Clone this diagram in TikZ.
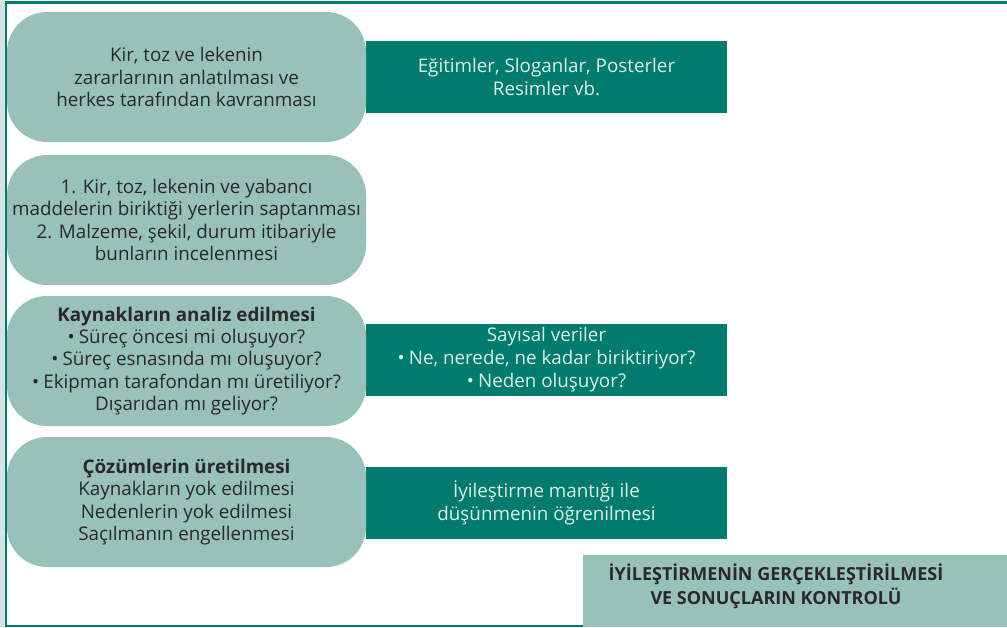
\documentclass[tikz,border=0pt]{standalone}
\usepackage{fontspec}
\setmainfont{Open Sans}
\definecolor{lightteal}{HTML}{97C1B9}
\definecolor{darkteal}{HTML}{007B6D}
\definecolor{textdark}{HTML}{2A2928}
\definecolor{textlight}{HTML}{DDEFEA}
\definecolor{strip}{HTML}{D4E4E1}
% bullet with a little extra room before the item text
\newcommand{\itembullet}{•\hspace{0.22em}}
\begin{document}
\begin{tikzpicture}[x=1pt,y=-1pt,
  stage/.style={fill=lightteal, rounded corners=40pt, text=textdark, align=center,
    inner sep=0pt, minimum width=359pt, minimum height=130pt,
    font=\fontsize{18.8}{22.3}\selectfont},
  note/.style={fill=darkteal, text=textlight, align=center, inner sep=0pt,
    minimum width=361pt, minimum height=72pt,
    font=\fontsize{18.8}{23}\selectfont},
  resultbox/.style={fill=lightteal, inner sep=0pt, minimum width=424pt, minimum height=72pt},
  resulttext/.style={text=textdark, align=center, font=\bfseries\fontsize{18}{24}\selectfont}]
\useasboundingbox (0,0) rectangle (1007,627);
% frame
\fill[strip] (0,0) rectangle (4.5,627);
\fill[darkteal] (4.5,1) rectangle (1007,3.5);
\fill[darkteal] (4.5,1) rectangle (7,627);
\fill[darkteal] (4.5,624.5) rectangle (583,627);
% right-hand notes
\node[note] (n1) at (546.5,77) {Eğitimler, Sloganlar, Posterler\\Resimler vb.};
\node[note] (n2) at (546.5,360) {Sayısal veriler\\\itembullet Ne, nerede, ne kadar biriktiriyor?\\\itembullet Neden oluşuyor?};
\node[note] (n3) at (546.5,503) {İyileştirme mantığı ile\\düşünmenin öğrenilmesi};
% stages
\node[stage] (s1) at (186.5,77) {Kir, toz ve lekenin\\zararlarının anlatılması ve\\herkes tarafından kavranması};
\node[stage] (s2) at (186.5,220) {1. Kir, toz, lekenin ve yabancı\\maddelerin biriktiği yerlerin saptanması\\2. Malzeme, şekil, durum itibariyle\\bunların incelenmesi};
\node[stage] (s3) at (186.5,361) {{\bfseries Kaynakların analiz edilmesi}\\\itembullet Süreç öncesi mi oluşuyor?\\\itembullet Süreç esnasında mı oluşuyor?\\\itembullet Ekipman tarafondan mı üretiliyor?\\Dışarıdan mı geliyor?};
\node[stage] (s4) at (186.5,502) {{\bfseries Çözümlerin üretilmesi}\\Kaynakların yok edilmesi\\Nedenlerin yok edilmesi\\Saçılmanın engellenmesi};
% result
\node[resultbox] (r) at (795,591) {};
\node[resulttext] (rt) at (776,586) {İYİLEŞTİRMENİN GERÇEKLEŞTİRİLMESİ\\VE SONUÇLARIN KONTROLÜ};
\end{tikzpicture}
\end{document}
